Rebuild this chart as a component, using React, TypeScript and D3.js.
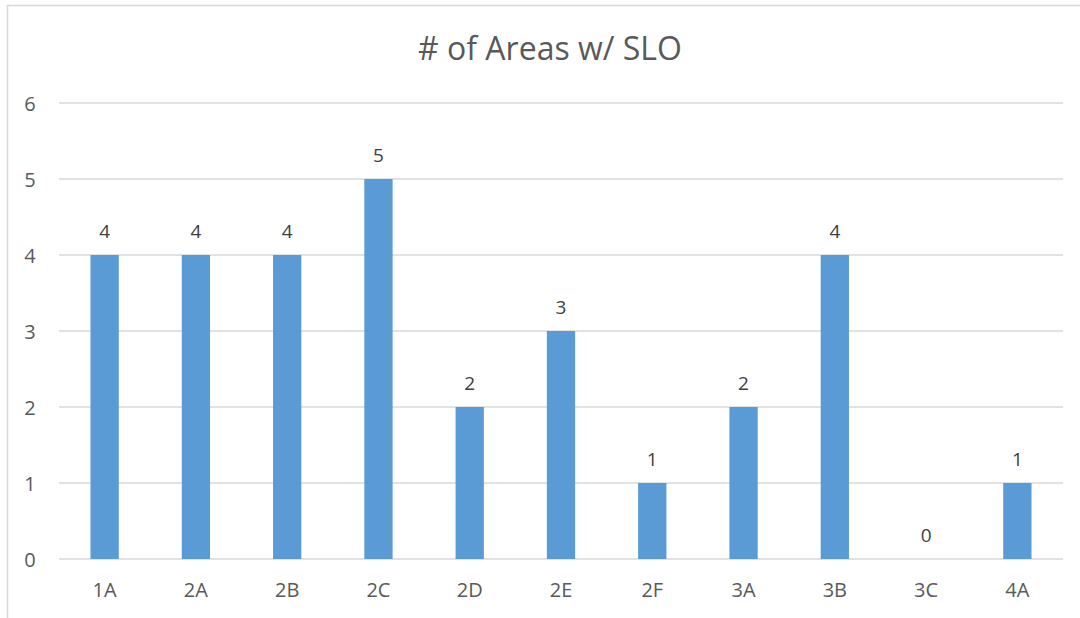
import React, { useEffect, useRef } from "react";
import * as d3 from "d3";

// chart data
const categories = ["1A", "2A", "2B", "2C", "2D", "2E", "2F", "3A", "3B", "3C", "4A"];
const values = [4, 4, 4, 5, 2, 3, 1, 2, 4, 0, 1];
const yTicks = [0, 1, 2, 3, 4, 5, 6];
const title = "# of Areas w/ SLO";

const width = 1080;
const height = 618;
const font = "'Open Sans', sans-serif";

export default function App() {
  const ref = useRef<SVGSVGElement>(null);

  useEffect(() => {
    const svg = d3.select(ref.current);
    svg.selectAll("*").remove();

    // plot area
    const left = 59;
    const right = 1063;
    const top = 103;
    const bottom = 559;

    // create x and y scales
    const xScale = d3.scaleBand().domain(categories).range([left, right]).paddingInner(0.69).paddingOuter(0.345);
    const yScale = d3.scaleLinear().domain([0, 6]).range([bottom, top]);

    // chart border
    svg.append("rect")
      .attr("x", 7.5).attr("y", 5.5)
      .attr("width", width + 20).attr("height", height + 20)
      .attr("fill", "white").attr("stroke", "#d9d9d9").attr("stroke-width", 1.5);

    // title
    svg.append("text")
      .attr("x", 550).attr("y", 60)
      .attr("text-anchor", "middle")
      .style("font-family", font).style("font-size", "32px").attr("fill", "#595959")
      .text(title);

    // gridlines + y labels
    svg.selectAll(".grid").data(yTicks).join("line")
      .attr("x1", left).attr("x2", right)
      .attr("y1", d => yScale(d)).attr("y2", d => yScale(d))
      .attr("stroke", "#d9d9d9").attr("stroke-width", 1.5);

    svg.selectAll(".ylab").data(yTicks).join("text")
      .attr("x", 30).attr("y", d => yScale(d) + 8)
      .attr("text-anchor", "middle")
      .style("font-family", font).style("font-size", "20px").attr("fill", "#595959")
      .text(d => d);

    // bars
    svg.selectAll(".bar").data(values).join("rect")
      .attr("x", (d, i) => xScale(categories[i])!)
      .attr("y", d => yScale(d))
      .attr("width", xScale.bandwidth())
      .attr("height", d => bottom - yScale(d))
      .attr("fill", "#5b9bd5");

    // value labels
    svg.selectAll(".val").data(values).join("text")
      .attr("x", (d, i) => xScale(categories[i])! + xScale.bandwidth() / 2)
      .attr("y", d => yScale(d) - 17)
      .attr("text-anchor", "middle")
      .style("font-family", font).style("font-size", "19px").attr("fill", "#404040")
      .text(d => d);

    // category labels
    svg.selectAll(".cat").data(categories).join("text")
      .attr("x", d => xScale(d)! + xScale.bandwidth() / 2)
      .attr("y", 597)
      .attr("text-anchor", "middle")
      .style("font-family", font).style("font-size", "20px").attr("fill", "#595959")
      .text(d => d);
  }, []);

  return (
    <svg ref={ref} width={width} height={height} style={{ position: "absolute", left: 0, top: 0 }} />
  );
}
